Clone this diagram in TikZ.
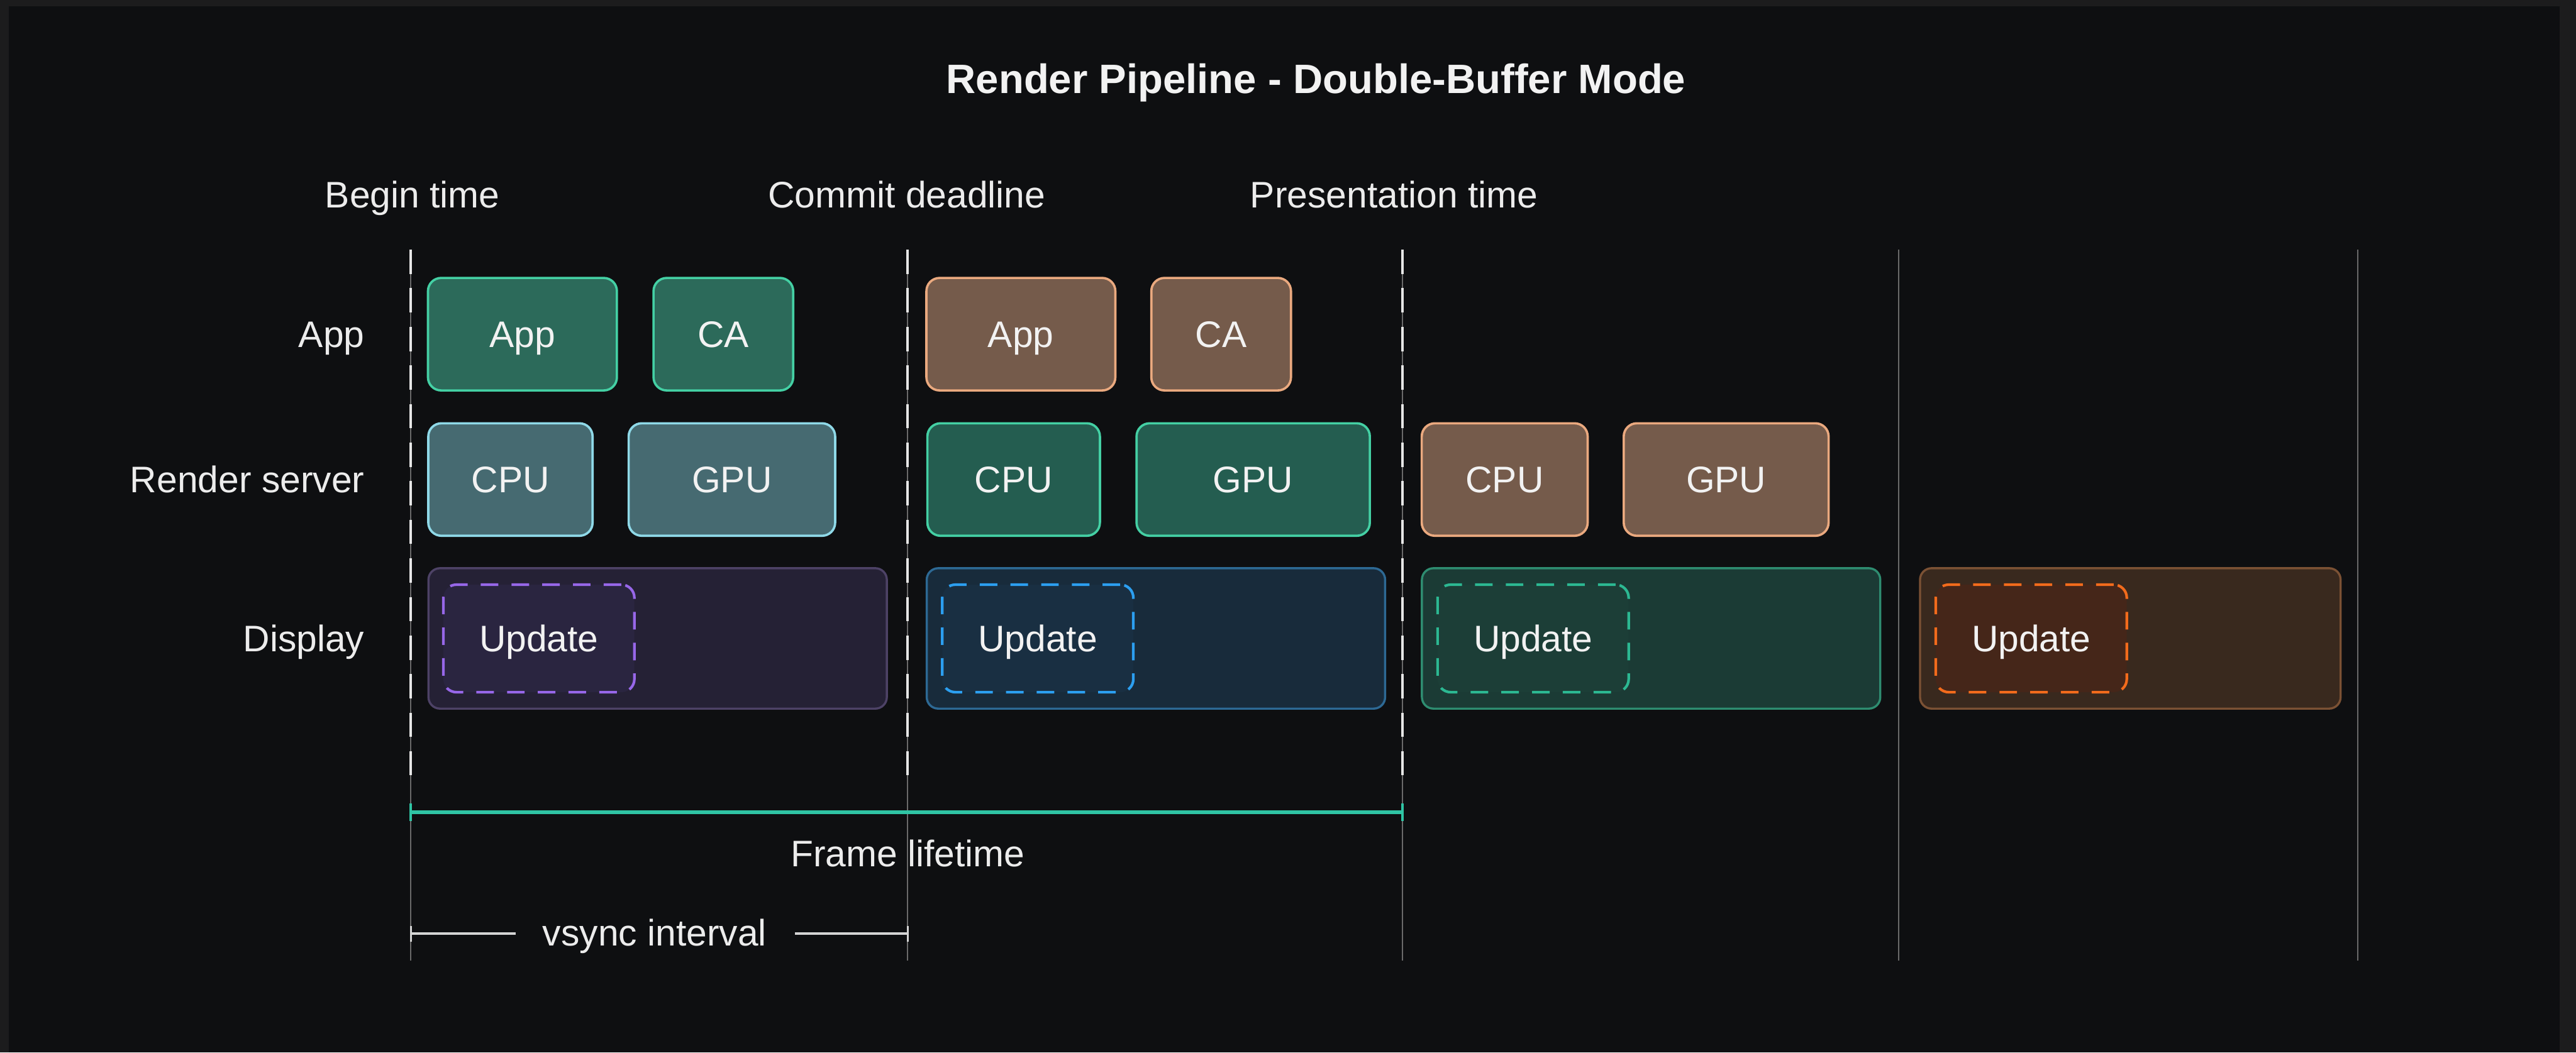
\documentclass[tikz,border=0pt]{standalone}
\usepackage{fontspec}
\setmainfont{Liberation Sans}
\definecolor{frameouter}{HTML}{1C1C1D}
\definecolor{bgcol}{HTML}{0E0F11}
\definecolor{txt}{HTML}{F2F2F2}
\definecolor{lbl}{HTML}{ECECEC}
\definecolor{gfill}{HTML}{2C6A5A}
\definecolor{gfilltwo}{HTML}{245D50}
\definecolor{gline}{HTML}{44D0A4}
\definecolor{bfill}{HTML}{755B4B}
\definecolor{bline}{HTML}{EAA97F}
\definecolor{cfill}{HTML}{466A71}
\definecolor{cline}{HTML}{8FD9E8}
\definecolor{pfill}{HTML}{252135}
\definecolor{pline}{HTML}{4D4266}
\definecolor{pin}{HTML}{2A2540}
\definecolor{pdash}{HTML}{9767E8}
\definecolor{sfill}{HTML}{182B3B}
\definecolor{sline}{HTML}{2D6994}
\definecolor{sin}{HTML}{192F42}
\definecolor{sdash}{HTML}{2C9FF0}
\definecolor{tfill}{HTML}{1B3B35}
\definecolor{tline}{HTML}{2E8C70}
\definecolor{tin}{HTML}{1C3E37}
\definecolor{tdash}{HTML}{2CB892}
\definecolor{ofill}{HTML}{39291E}
\definecolor{oline}{HTML}{7B5134}
\definecolor{oin}{HTML}{452619}
\definecolor{odash}{HTML}{F26B1C}
\definecolor{gridgray}{HTML}{6A6A6A}
\definecolor{dashwhite}{HTML}{E6E6E6}
\definecolor{lifeteal}{HTML}{2FC4A4}
\definecolor{vsyncgray}{HTML}{D4D4D4}
\begin{document}
\begin{tikzpicture}[x=1pt,y=-1pt,
  txtfont/.style={font=\fontsize{22.5}{27}\selectfont},
  capc/.style={text height=16.1pt, text depth=0pt, inner sep=0pt},
  label/.style={txtfont, capc, text=lbl},
  rowlabel/.style={label, anchor=east},
  blk/.style={txtfont, capc, text=txt, line width=1.4pt, rounded corners=8pt, minimum height=68.5pt},
  greenblk/.style={blk, fill=gfill, draw=gline},
  greenblktwo/.style={blk, fill=gfilltwo, draw=gline},
  brownblk/.style={blk, fill=bfill, draw=bline},
  cyanblk/.style={blk, fill=cfill, draw=cline},
  disp/.style={line width=1.3pt, rounded corners=7pt, minimum height=85.5pt, minimum width=279pt, inner sep=0pt},
  upd/.style={txtfont, capc, text=txt, line width=1.6pt, rounded corners=8pt, dash pattern=on 10.7pt off 8pt,
    minimum height=65.5pt, minimum width=116.3pt},
  gridline/.style={draw=gridgray, line width=0.8pt},
  vdash/.style={draw=dashwhite, line width=1.5pt, dash pattern=on 14.8pt off 8.7pt},
]
\useasboundingbox (0,0) rectangle (1568,641);
% page and panel
\fill[frameouter] (0,0) rectangle (1568,641);
\fill[bgcol] (5.4,3.7) rectangle (1558.2,641);

% title and time markers
\node[font=\fontsize{25}{30}\selectfont\bfseries, text=txt, text height=17.9pt, text depth=0pt, inner sep=0pt] (title) at (801,48) {Render Pipeline - Double-Buffer Mode};
\node[label] (begin) at (251,118.5) {Begin time};
\node[label] (commit) at (552,118.5) {Commit deadline};
\node[label] (present) at (848.5,118.5) {Presentation time};

% row labels
\node[rowlabel] (rapp) at (222,203.5) {App};
\node[rowlabel] (rrender) at (222,292) {Render server};
\node[rowlabel] (rdisp) at (222,388.75) {Display};

% vertical time lines
\foreach \i/\x in {1/250,2/552.5,3/853.7,4/1155.8,5/1435}{
  \coordinate (top\i) at (\x,152);
  \coordinate (mid\i) at (\x,472);
  \coordinate (bot\i) at (\x,585);
  \draw[gridline] (top\i) -- (bot\i);
}
\foreach \i in {1,2,3}{
  \draw[vdash] (top\i) -- (mid\i);
}

% App row
\node[greenblk, minimum width=115pt] (app1) at (318,203.5) {App};
\node[greenblk, minimum width=85pt] (ca1) at (440.3,203.5) {CA};
\node[brownblk, minimum width=115pt] (app2) at (621.4,203.5) {App};
\node[brownblk, minimum width=85pt] (ca2) at (743.3,203.5) {CA};

% Render server row
\node[cyanblk, minimum width=100pt] (cpu1) at (310.7,292) {CPU};
\node[cyanblk, minimum width=125.7pt] (gpu1) at (445.5,292) {GPU};
\node[greenblktwo, minimum width=105pt] (cpu2) at (617,292) {CPU};
\node[greenblktwo, minimum width=142pt] (gpu2) at (762.8,292) {GPU};
\node[brownblk, minimum width=101pt] (cpu3) at (915.9,292) {CPU};
\node[brownblk, minimum width=124.7pt] (gpu3) at (1050.7,292) {GPU};

% Display row
\node[disp, fill=pfill, draw=pline] (d1) at (400.3,388.75) {};
\node[upd, fill=pin, draw=pdash] (u1) at (328,388.75) {Update};
\node[disp, fill=sfill, draw=sline] (d2) at (703.6,388.75) {};
\node[upd, fill=sin, draw=sdash] (u2) at (631.7,388.75) {Update};
\node[disp, fill=tfill, draw=tline] (d3) at (1005,388.75) {};
\node[upd, fill=tin, draw=tdash] (u3) at (933.2,388.75) {Update};
\node[disp, fill=ofill, draw=oline, minimum width=256pt] (d4) at (1296.7,388.75) {};
\node[upd, fill=oin, draw=odash] (u4) at (1236.4,388.75) {Update};

% frame lifetime span
\coordinate (fl1) at (250,494.6);
\coordinate (fl2) at (853.7,494.6);
\draw[lifeteal, line width=2pt] (fl1) -- (fl2);
\draw[lifeteal, line width=1.4pt] ([yshift=-5.3pt]fl1) -- ([yshift=5.3pt]fl1);
\draw[lifeteal, line width=1.4pt] ([yshift=-5.3pt]fl2) -- ([yshift=5.3pt]fl2);
\node[label] (lifetime) at (552.5,519.5) {Frame lifetime};

% vsync interval span
\node[label] (vsync) at (398.5,568) {vsync interval};
\coordinate (vs1) at (250,568.6);
\coordinate (vs2) at (552.5,568.6);
\draw[vsyncgray, line width=1.6pt] (vs1) -- (314,568.6);
\draw[vsyncgray, line width=1.6pt] (484,568.6) -- (vs2);
\draw[vsyncgray, line width=1.2pt] ([yshift=-4.8pt]vs1) -- ([yshift=4.8pt]vs1);
\draw[vsyncgray, line width=1.2pt] ([yshift=-4.8pt]vs2) -- ([yshift=4.8pt]vs2);
\end{tikzpicture}
\end{document}
